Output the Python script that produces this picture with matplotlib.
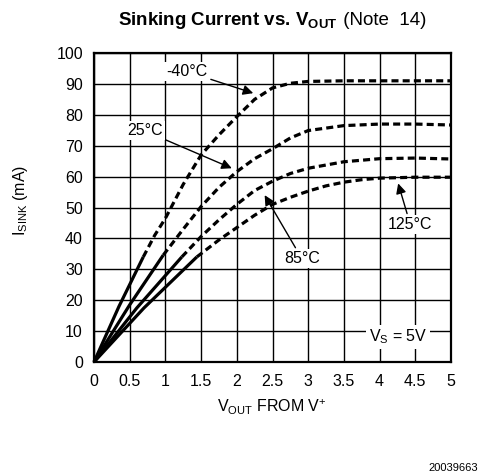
import matplotlib
matplotlib.use("Agg")
import matplotlib.pyplot as plt
import numpy as np

plt.rcParams['font.family'] = ['Liberation Sans', 'DejaVu Sans']
plt.rcParams['mathtext.fontset'] = 'custom'
plt.rcParams['mathtext.rm'] = 'Liberation Sans'
plt.rcParams['mathtext.bf'] = 'Liberation Sans:bold'

# ---- data ----
labels = ["-40°C", "25°C", "85°C", "125°C"]

v_solid_m40 = [0, 0.35, 0.69]
i_solid_m40 = [0, 18, 34]
v_dash_m40 = [0.69, 0.85, 1.0, 1.25, 1.5, 1.75, 2.0, 2.25, 2.5, 2.75, 3.0, 3.5, 4.0, 4.5, 5.0]
i_dash_m40 = [34, 41, 46.5, 57.5, 67, 73.5, 79.4, 85, 88.7, 90.2, 90.8, 91, 91, 91, 91]

v_solid_25 = [0, 0.5, 0.97]
i_solid_25 = [0, 18.5, 34.6]
v_dash_25 = [0.97, 1.25, 1.5, 1.75, 2.0, 2.25, 2.5, 2.75, 3.0, 3.5, 4.0, 4.5, 5.0]
i_dash_25 = [34.6, 43, 50.3, 56.5, 61.6, 65.8, 69, 72.5, 74.9, 76.5, 77, 77, 76.7]

v_solid_85 = [0, 0.6, 1.23]
i_solid_85 = [0, 17.5, 34]
v_dash_85 = [1.23, 1.5, 1.75, 2.0, 2.25, 2.5, 2.75, 3.0, 3.5, 4.0, 4.5, 5.0]
i_dash_85 = [34, 40.6, 46, 51, 55.5, 58.5, 61, 62.7, 64.8, 65.8, 66, 65.7]

v_solid_125 = [0, 0.7, 1.44]
i_solid_125 = [0, 17.5, 34]
v_dash_125 = [1.44, 1.75, 2.0, 2.25, 2.5, 2.75, 3.0, 3.25, 3.5, 3.75, 4.0, 4.5, 5.0]
i_dash_125 = [34, 39.5, 43.5, 47.5, 51, 53.3, 55.3, 57, 58.2, 59, 59.5, 59.8, 59.8]

x_ticks = [0, 0.5, 1, 1.5, 2, 2.5, 3, 3.5, 4, 4.5, 5]
x_tick_labels = ["0", "0.5", "1", "1.5", "2", "2.5", "3", "3.5", "4", "4.5", "5"]
y_ticks = [0, 10, 20, 30, 40, 50, 60, 70, 80, 90, 100]

W, H = 488, 474
fig = plt.figure(figsize=(W / 100, H / 100), dpi=100)
ax = fig.add_axes([94 / W, 1 - 362 / H, (451 - 94) / W, (362 - 53) / H])

fs = 11.5
ax.set_xlim(0, 5)
ax.set_ylim(0, 100)
ax.set_xticks(x_ticks)
ax.set_xticklabels(x_tick_labels)
ax.set_yticks(y_ticks)
ax.tick_params(length=0, labelsize=fs, colors='black')
ax.tick_params(axis='x', pad=9)
ax.tick_params(axis='y', pad=8)
ax.grid(True, color='black', linewidth=1.0)
ax.set_axisbelow(True)
for s in ax.spines.values():
    s.set_linewidth(1.6)
    s.set_color('black')

lw = 2.3
dash = (2.2, 1.3)
series = [
    (v_solid_m40, i_solid_m40, v_dash_m40, i_dash_m40),
    (v_solid_25, i_solid_25, v_dash_25, i_dash_25),
    (v_solid_85, i_solid_85, v_dash_85, i_dash_85),
    (v_solid_125, i_solid_125, v_dash_125, i_dash_125),
]
for vs, is_, vd, id_ in series:
    ax.plot(vs, is_, color='black', lw=lw, solid_capstyle='butt', zorder=3, clip_on=False)
    ax.plot(vd, id_, color='black', lw=lw, linestyle=(0, dash), dash_capstyle='butt', zorder=3)

arrow = dict(arrowstyle='-|>', color='black', lw=1.0, mutation_scale=15, shrinkA=1, shrinkB=0)
box = dict(facecolor='white', edgecolor='none', pad=1.5)
ax.annotate(labels[0], xy=(2.23, 87), xytext=(1.30, 94), ha='center', va='center',
            fontsize=fs, arrowprops=arrow, bbox=box, zorder=5)
ax.annotate(labels[1], xy=(1.93, 62.7), xytext=(0.71, 74.8), ha='center', va='center',
            fontsize=fs, arrowprops=arrow, bbox=box, zorder=5)
ax.annotate(labels[2], xy=(2.39, 54), xytext=(2.91, 33.5), ha='center', va='center',
            fontsize=fs, arrowprops=arrow, bbox=box, zorder=5)
ax.annotate(labels[3], xy=(4.26, 57.8), xytext=(4.43, 44.5), ha='center', va='center',
            fontsize=fs, arrowprops=arrow, bbox=box, zorder=5)
ax.text(4.26, 8.2, r'V$_\mathregular{S}$ = 5V', ha='center', va='center', fontsize=fs,
        bbox=dict(facecolor='white', edgecolor='none', pad=2), zorder=5)

fig.text(20 / W, 1 - 200 / H, r'I$_\mathregular{SINK}$ (mA)', rotation=90,
         ha='center', va='center', fontsize=fs)
fig.text(272 / W, 1 - 407 / H, r'V$_\mathregular{OUT}$ FROM V$^\mathregular{+}$',
         ha='center', va='center', fontsize=fs)

# title: bold part + normal part, centred together over the axes
r = fig.canvas.get_renderer()
t1 = fig.text(0, 1 - 25 / H, r'Sinking Current vs. V$_\mathbf{OUT}$', ha='left',
              va='baseline', fontsize=13.5, fontweight='bold')
t2 = fig.text(0, 1 - 25 / H, ' (Note  14)', ha='left', va='baseline', fontsize=13.5)
w1 = t1.get_window_extent(r).width
w2 = t2.get_window_extent(r).width
x0 = 272 - (w1 + w2) / 2
t1.set_x(x0 / W)
t2.set_x((x0 + w1) / W)

fig.text(478 / W, 1 - 468 / H, '20039663', ha='right', va='center', fontsize=8)

fig.savefig('out.png', dpi=100)
